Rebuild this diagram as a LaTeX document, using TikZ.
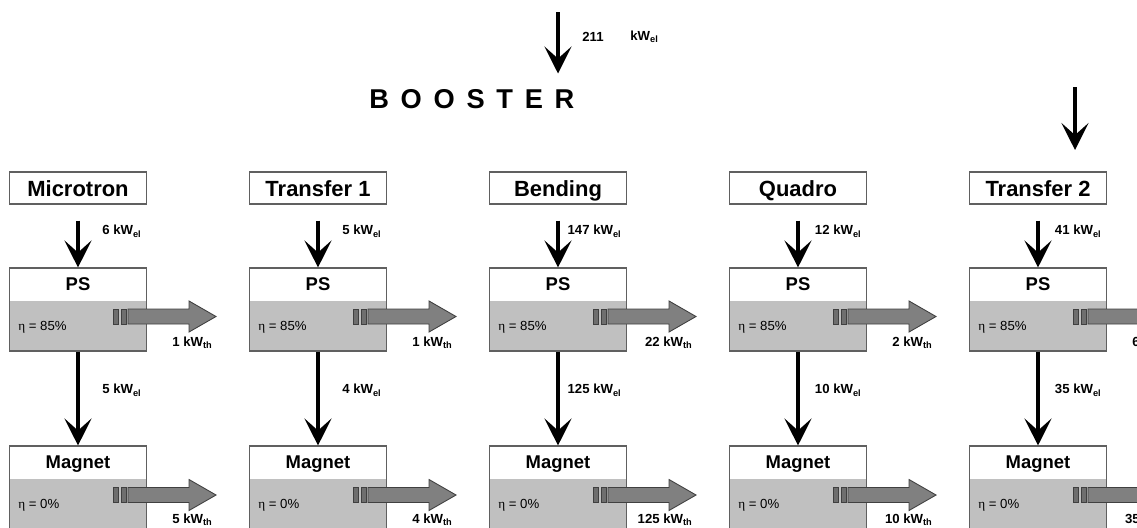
\documentclass[tikz,border=0pt]{standalone}
\usepackage{fontspec}
\setmainfont{Liberation Sans}
\newfontfamily\etafont{Liberation Serif}
\usetikzlibrary{arrows.meta,calc}

\definecolor{boxgray}{RGB}{192,192,192}
\definecolor{boxline}{RGB}{96,96,96}
\definecolor{heatfill}{RGB}{128,128,128}
\definecolor{heatline}{RGB}{64,64,64}
\definecolor{barfill}{RGB}{110,110,110}

\newcommand{\kwel}[1]{#1 kW\textsubscript{el}}
\newcommand{\kwth}[1]{#1 kW\textsubscript{th}}

\begin{document}
\begin{tikzpicture}[x=0.2mm, y=-0.2mm,
    flow/.style={line width=2.3pt, -{Stealth[length=15.3pt, width=15.3pt, inset=6.8pt]}},
    stage/.style={draw=boxline, line width=0.6pt, minimum width=27.4mm, minimum height=6.4mm,
      inner sep=0, text height=9.5pt, text depth=0.3pt, font=\fontsize{12.5}{14}\selectfont\bfseries},
    unit/.style={draw=boxline, line width=0.6pt, minimum width=27.4mm, minimum height=16.6mm,
      inner sep=0, path picture={\fill[boxgray] ([yshift=-6.6mm]path picture bounding box.north west)
        rectangle (path picture bounding box.south east);}},
    unitname/.style={anchor=north, minimum height=6.6mm, inner sep=0, text height=7.8pt, text depth=0.3pt,
      font=\fontsize{10.5}{12}\selectfont\bfseries},
    eff/.style={anchor=west, inner sep=0, font=\fontsize{7.5}{9}\selectfont},
    elabel/.style={anchor=east, inner sep=0, font=\fontsize{7.5}{9}\selectfont\bfseries},
    heat/.pic={
      \filldraw[fill=barfill, draw=heatline, line width=0.5pt]
        (0,-7.5) rectangle (5,7.5) (8,-7.5) rectangle (13,7.5);
      \filldraw[fill=heatfill, draw=heatline, line width=0.5pt]
        (15,-7.5) -- (76,-7.5) -- (76,-15.5) -- (103,0) -- (76,15.5) -- (76,7.5) -- (15,7.5) -- cycle;
    }]

  \useasboundingbox (0,0) rectangle (1137,527);
  \clip (0,0) rectangle (1137,527);

  % booster feed
  \node[anchor=west, inner sep=0, font=\fontsize{15.5}{18}\selectfont\bfseries\addfontfeature{LetterSpace=43}]
    (booster) at (369,99.5) {BOOSTER};
  \coordinate (boost-in) at (558,12);
  \draw[flow, shorten >=3.2mm] (boost-in) -- (boost-in |- booster.north);
  \node[elabel, anchor=west] (boost-val) at (582,37) {211};
  \node[elabel, anchor=west] (boost-unit) at (630,37) {kW\textsubscript{el}};

  \coordinate (feed-top) at (1075,87);
  \coordinate (feed-end) at (1075,150);
  \draw[flow] (feed-top) -- (feed-end);

  % stages
  \begin{scope}[every node/.style={stage}]
    \node (micro)  at (78,188)   {Microtron};
    \node (trans1) at (318,188)  {Transfer 1};
    \node (bend)   at (558,188)  {Bending};
    \node (quad)   at (798,188)  {Quadro};
    \node (trans2) at (1038,188) {Transfer 2};
  \end{scope}

  % power supplies and magnets
  \begin{scope}[every node/.style={unit}]
    \node (ps1)  at (78,309.5)   {};
    \node (ps2)  at (318,309.5)  {};
    \node (ps3)  at (558,309.5)  {};
    \node (ps4)  at (798,309.5)  {};
    \node (ps5)  at (1038,309.5) {};
    \node (mag1) at (78,487.5)   {};
    \node (mag2) at (318,487.5)  {};
    \node (mag3) at (558,487.5)  {};
    \node (mag4) at (798,487.5)  {};
    \node (mag5) at (1038,487.5) {};
  \end{scope}

  \node[unitname] (ps1-name) at (ps1.north) {PS};
  \node[unitname] (ps2-name) at (ps2.north) {PS};
  \node[unitname] (ps3-name) at (ps3.north) {PS};
  \node[unitname] (ps4-name) at (ps4.north) {PS};
  \node[unitname] (ps5-name) at (ps5.north) {PS};
  \node[unitname] (mag1-name) at (mag1.north) {Magnet};
  \node[unitname] (mag2-name) at (mag2.north) {Magnet};
  \node[unitname] (mag3-name) at (mag3.north) {Magnet};
  \node[unitname] (mag4-name) at (mag4.north) {Magnet};
  \node[unitname] (mag5-name) at (mag5.north) {Magnet};

  \node[eff] (ps1-eff) at ($(ps1.west)+(9,17.5)$) {{\etafont η} = 85\%};
  \node[eff] (ps2-eff) at ($(ps2.west)+(9,17.5)$) {{\etafont η} = 85\%};
  \node[eff] (ps3-eff) at ($(ps3.west)+(9,17.5)$) {{\etafont η} = 85\%};
  \node[eff] (ps4-eff) at ($(ps4.west)+(9,17.5)$) {{\etafont η} = 85\%};
  \node[eff] (ps5-eff) at ($(ps5.west)+(9,17.5)$) {{\etafont η} = 85\%};
  \node[eff] (mag1-eff) at ($(mag1.west)+(9,17.5)$) {{\etafont η} = 0\%};
  \node[eff] (mag2-eff) at ($(mag2.west)+(9,17.5)$) {{\etafont η} = 0\%};
  \node[eff] (mag3-eff) at ($(mag3.west)+(9,17.5)$) {{\etafont η} = 0\%};
  \node[eff] (mag4-eff) at ($(mag4.west)+(9,17.5)$) {{\etafont η} = 0\%};
  \node[eff] (mag5-eff) at ($(mag5.west)+(9,17.5)$) {{\etafont η} = 0\%};

  % electrical power
  \draw[flow, shorten <=3.2mm] (micro) -- (ps1);
  \draw[flow, shorten <=3.2mm] (trans1) -- (ps2);
  \draw[flow, shorten <=3.2mm] (bend) -- (ps3);
  \draw[flow, shorten <=3.2mm] (quad) -- (ps4);
  \draw[flow, shorten <=3.2mm] (trans2) -- (ps5);
  \draw[flow] (ps1) -- (mag1);
  \draw[flow] (ps2) -- (mag2);
  \draw[flow] (ps3) -- (mag3);
  \draw[flow] (ps4) -- (mag4);
  \draw[flow] (ps5) -- (mag5);

  \node[elabel] (ps1-in) at ($(ps1.north)+(64,-36)$) {\kwel{6}};
  \node[elabel] (ps2-in) at ($(ps2.north)+(64,-36)$) {\kwel{5}};
  \node[elabel] (ps3-in) at ($(ps3.north)+(64,-36)$) {\kwel{147}};
  \node[elabel] (ps4-in) at ($(ps4.north)+(64,-36)$) {\kwel{12}};
  \node[elabel] (ps5-in) at ($(ps5.north)+(64,-36)$) {\kwel{41}};
  \node[elabel] (mag1-in) at ($(mag1.north)+(64,-55)$) {\kwel{5}};
  \node[elabel] (mag2-in) at ($(mag2.north)+(64,-55)$) {\kwel{4}};
  \node[elabel] (mag3-in) at ($(mag3.north)+(64,-55)$) {\kwel{125}};
  \node[elabel] (mag4-in) at ($(mag4.north)+(64,-55)$) {\kwel{10}};
  \node[elabel] (mag5-in) at ($(mag5.north)+(64,-55)$) {\kwel{35}};

  % heat losses
  \pic at ($(ps1.east)+(-34,7)$) {heat};
  \pic at ($(ps2.east)+(-34,7)$) {heat};
  \pic at ($(ps3.east)+(-34,7)$) {heat};
  \pic at ($(ps4.east)+(-34,7)$) {heat};
  \pic at ($(ps5.east)+(-34,7)$) {heat};
  \pic at ($(mag1.east)+(-34,7.5)$) {heat};
  \pic at ($(mag2.east)+(-34,7.5)$) {heat};
  \pic at ($(mag3.east)+(-34,7.5)$) {heat};
  \pic at ($(mag4.east)+(-34,7.5)$) {heat};
  \pic at ($(mag5.east)+(-34,7.5)$) {heat};

  \node[elabel] (ps1-out) at ($(ps1.east)+(66,33.5)$) {\kwth{1}};
  \node[elabel] (ps2-out) at ($(ps2.east)+(66,33.5)$) {\kwth{1}};
  \node[elabel] (ps3-out) at ($(ps3.east)+(66,33.5)$) {\kwth{22}};
  \node[elabel] (ps4-out) at ($(ps4.east)+(66,33.5)$) {\kwth{2}};
  \node[elabel] (ps5-out) at ($(ps5.east)+(66,33.5)$) {\kwth{6}};
  \node[elabel] (mag1-out) at ($(mag1.east)+(66,32)$) {\kwth{5}};
  \node[elabel] (mag2-out) at ($(mag2.east)+(66,32)$) {\kwth{4}};
  \node[elabel] (mag3-out) at ($(mag3.east)+(66,32)$) {\kwth{125}};
  \node[elabel] (mag4-out) at ($(mag4.east)+(66,32)$) {\kwth{10}};
  \node[elabel] (mag5-out) at ($(mag5.east)+(66,32)$) {\kwth{35}};

\end{tikzpicture}
\end{document}
